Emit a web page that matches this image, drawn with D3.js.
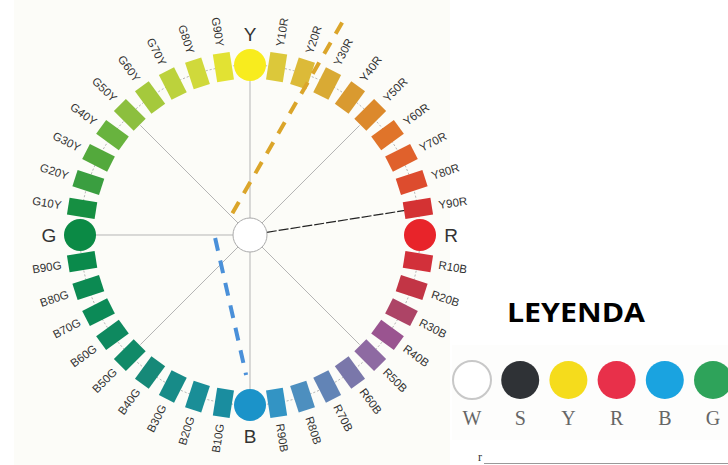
<!DOCTYPE html>
<html><head><meta charset="utf-8">
<script src="https://cdn.jsdelivr.net/npm/d3@7"></script>
<style>body{margin:0;background:#fff}svg{display:block}</style>
</head><body>
<script>
// ---- data ----
const hues = ["Y","Y10R","Y20R","Y30R","Y40R","Y50R","Y60R","Y70R","Y80R","Y90R",
  "R","R10B","R20B","R30B","R40B","R50B","R60B","R70B","R80B","R90B",
  "B","B10G","B20G","B30G","B40G","B50G","B60G","B70G","B80G","B90G",
  "G","G10Y","G20Y","G30Y","G40Y","G50Y","G60Y","G70Y","G80Y","G90Y"];
const hueColors = ["#f8ec1e","#dcc83a","#dcba38","#d9aa34","#d99a30","#dc892c","#e0742a","#e0612c","#dd4c2e","#d43233",
  "#e8242a","#d2303a","#c23545","#ad4466","#9a5490","#8e6aa2","#7a77aa","#6284b6","#4d8fbf","#3394c4",
  "#1b93c9","#1a8d9f","#1a8e97","#178b88","#168978","#108a68","#0e895f","#0c8a57","#0c8a52","#0a8a4b",
  "#0b8a45","#168f42","#3a9e40","#53a93c","#68b33e","#8cbf3e","#a5c93c","#bcd23c","#d0d93b","#e2e233"];
const primaries = ["Y","R","B","G"];
const spokes = ["Y","Y50R","R50B","B","B50G","G","G50Y"];
const darkSpoke = ["Y90R"];
// annotation dashed lines: [angle deg, radius] pairs of the two ends
const goldDash = [[-129, 28], [-66.4, 237]];
const blueDash = [[175, 35], [91.6, 140]];
const legendKeys = ["W","S","Y","R","B","G"];
const legendColors = ["#ffffff","#2f3236","#f5dc1c","#e8304a","#1aa3e0","#2ea35a"];
const legendTitle = "LEYENDA";

// ---- layout ----
const W = 728, H = 465;
const cx = 250, cy = 235, R = 170;
const svg = d3.select("body").append("svg").attr("width", W).attr("height", H);

const angle = d3.scaleLinear().domain([0, hues.length]).range([-90, 270]);
const rad = d => d * Math.PI / 180;
const px = (a, r) => cx + r * Math.cos(rad(a));
const py = (a, r) => cy + r * Math.sin(rad(a));

// background tints
svg.append("rect").attr("x", 14).attr("y", 0).attr("width", 436).attr("height", 465).attr("fill", "#fcfcf8");
svg.append("rect").attr("x", 452).attr("y", 345).attr("width", 276).attr("height", 95).attr("fill", "#fdfdfc");

const g = svg.append("g");

// ring
g.append("circle").attr("cx", cx).attr("cy", cy).attr("r", R)
  .attr("fill", "none").attr("stroke", "#9a9a9a").attr("stroke-width", 0.8).attr("stroke-dasharray", "2,2");

// spokes
const idx = h => hues.indexOf(h);
g.selectAll("line.spoke").data(spokes).join("line").attr("class", "spoke")
  .attr("x1", d => px(angle(idx(d)), 17)).attr("y1", d => py(angle(idx(d)), 17))
  .attr("x2", d => px(angle(idx(d)), R - 15))
  .attr("y2", d => py(angle(idx(d)), R - 15))
  .attr("stroke", "#b5b5b5").attr("stroke-width", 1);
g.selectAll("line.dark").data(darkSpoke).join("line").attr("class", "dark")
  .attr("x1", d => px(angle(idx(d)), 17)).attr("y1", d => py(angle(idx(d)), 17))
  .attr("x2", d => px(angle(idx(d)), R - 13)).attr("y2", d => py(angle(idx(d)), R - 13))
  .attr("stroke", "#222").attr("stroke-width", 1.2).attr("stroke-dasharray", "10,2");

// center circle
g.append("circle").attr("cx", cx).attr("cy", cy).attr("r", 17)
  .attr("fill", "#fff").attr("stroke", "#aaa").attr("stroke-width", 1);

// swatches
const items = hues.map((h, i) => ({h, c: hueColors[i], a: angle(i), p: primaries.includes(h)}));
g.selectAll("rect.sw").data(items.filter(d => !d.p)).join("rect").attr("class", "sw")
  .attr("x", -14).attr("y", -8.5).attr("width", 28).attr("height", 17)
  .attr("fill", d => d.c)
  .attr("transform", d => `translate(${px(d.a, R)},${py(d.a, R)}) rotate(${d.a})`);
g.selectAll("circle.pr").data(items.filter(d => d.p)).join("circle").attr("class", "pr")
  .attr("cx", d => px(d.a, R)).attr("cy", d => py(d.a, R)).attr("r", 16)
  .attr("fill", d => d.c);

// labels
g.selectAll("text.lab").data(items.filter(d => !d.p)).join("text").attr("class", "lab")
  .attr("transform", d => {
    const right = Math.cos(rad(d.a)) > 0.001;
    return `translate(${px(d.a, 191)},${py(d.a, 191)}) rotate(${right ? d.a : d.a + 180})`;
  })
  .attr("text-anchor", d => Math.cos(rad(d.a)) > 0.001 ? "start" : "end")
  .attr("dy", "0.35em")
  .attr("font-family", "Liberation Sans, Arial, sans-serif").attr("font-size", 11.5)
  .attr("fill", "#333")
  .text(d => d.h);
g.selectAll("text.plab").data(items.filter(d => d.p)).join("text").attr("class", "plab")
  .attr("x", d => px(d.a, 201)).attr("y", d => py(d.a, 201))
  .attr("text-anchor", "middle").attr("dy", "0.36em")
  .attr("font-family", "Liberation Sans, Arial, sans-serif").attr("font-size", 19)
  .attr("fill", "#333").text(d => d.h);

// dashed annotation lines
const dashLine = (pts, color) => g.append("line")
  .attr("x1", px(pts[0][0], pts[0][1])).attr("y1", py(pts[0][0], pts[0][1]))
  .attr("x2", px(pts[1][0], pts[1][1])).attr("y2", py(pts[1][0], pts[1][1]))
  .attr("stroke", color).attr("stroke-width", 4).attr("stroke-dasharray", "13,10");
dashLine(goldDash, "#dba52a");
dashLine(blueDash, "#4a90d9");

// legend
svg.append("text").attr("x", 576).attr("y", 322).attr("text-anchor", "middle")
  .attr("font-family", "Open Sans, sans-serif").attr("font-weight", "bold").attr("font-size", 27)
  .attr("textLength", 138).attr("lengthAdjust", "spacingAndGlyphs")
  .attr("fill", "#000").text(legendTitle);
const lx = d3.scalePoint().domain(legendKeys).range([472, 713]);
const leg = svg.selectAll("g.leg").data(legendKeys).join("g").attr("class", "leg");
leg.append("circle").attr("cx", d => lx(d)).attr("cy", 380).attr("r", 19)
  .attr("fill", (d, i) => legendColors[i]).attr("stroke", (d, i) => i === 0 ? "#c8c8c8" : "none").attr("stroke-width", 2);
leg.append("text").attr("x", d => lx(d)).attr("y", 425).attr("text-anchor", "middle")
  .attr("font-family", "Liberation Serif, serif").attr("font-size", 20).attr("fill", "#666").text(d => d);

// bottom fragment
svg.append("text").attr("x", 478).attr("y", 461).attr("font-family", "Liberation Serif, serif")
  .attr("font-size", 12).attr("fill", "#333").text("r");
svg.append("line").attr("x1", 484).attr("x2", 728).attr("y1", 463.5).attr("y2", 463.5)
  .attr("stroke", "#999").attr("stroke-width", 1);
</script>
</body></html>
